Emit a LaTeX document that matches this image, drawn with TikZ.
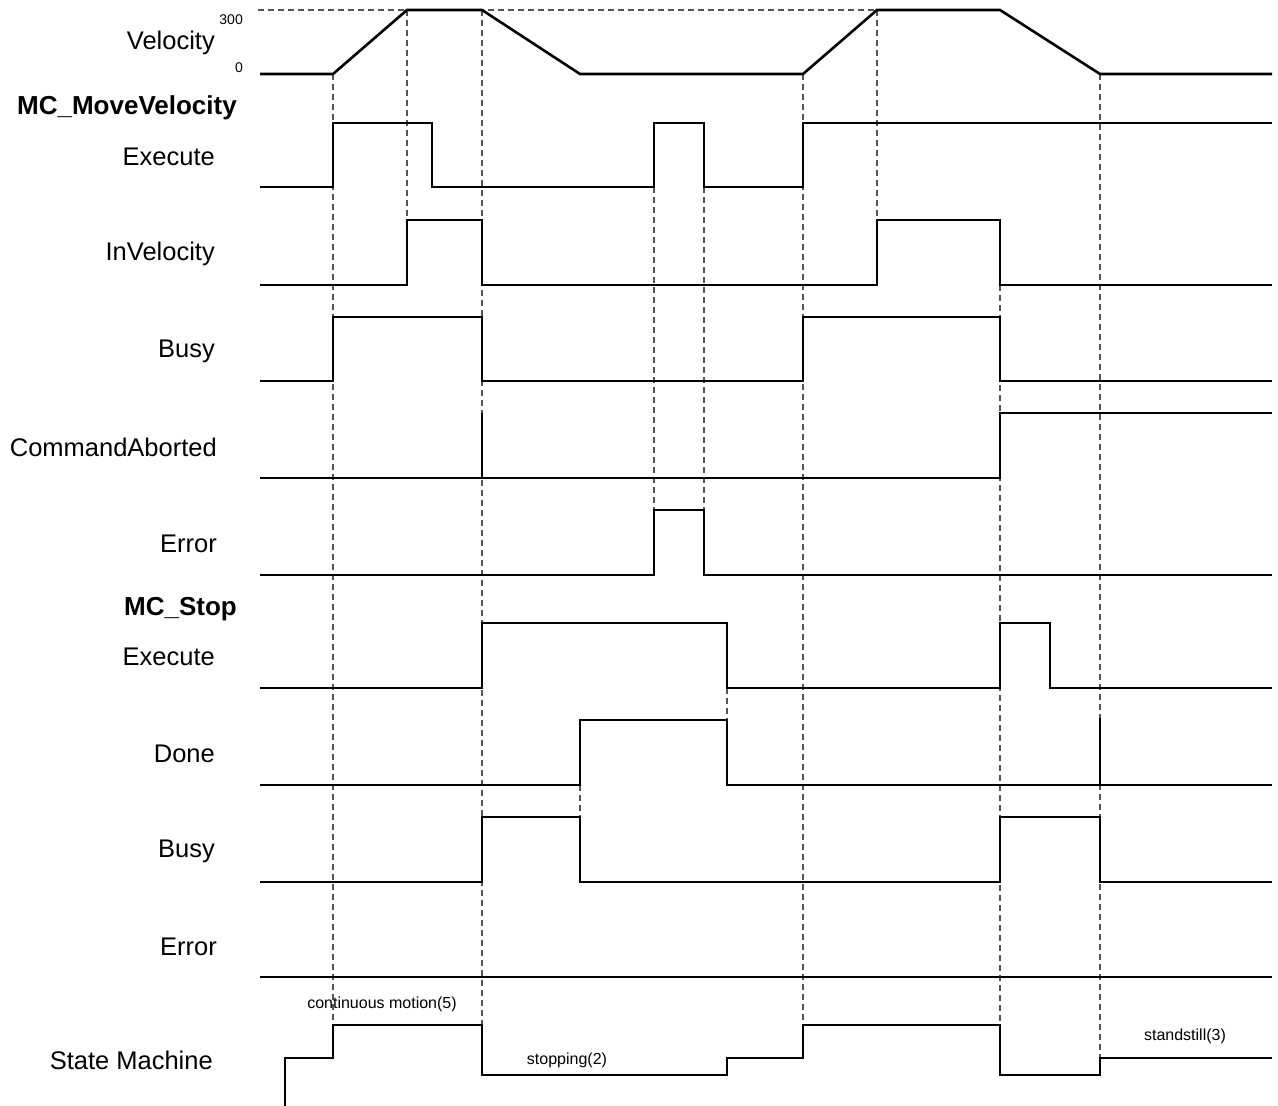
\documentclass[tikz,border=0pt]{standalone}
\usepackage{fontspec}
\setmainfont{Liberation Sans}
\usepackage{tikz}
\usepackage{xcolor}
\usetikzlibrary{positioning}
\definecolor{Ink}{HTML}{000000}
\definecolor{Guide}{HTML}{555555}

\begin{document}
\begin{tikzpicture}[x=1pt,y=-1pt,
  sig/.style={Ink,line width=2.6pt,line join=miter},
  guide/.style={Guide,line width=1.3pt,dash pattern=on 6pt off 4pt},
  lbl/.style={anchor=east,font=\fontsize{25.5}{27}\selectfont,inner sep=0pt},
  head/.style={anchor=east,font=\fontsize{26}{28}\selectfont\bfseries,inner sep=0pt},
  axis/.style={anchor=east,font=\fontsize{14}{16}\selectfont,inner sep=0pt},
  tiny/.style={font=\fontsize{16}{18}\selectfont,inner sep=0pt}]
  \useasboundingbox (0,0) rectangle (1278,1106);
  \draw[guide] (258,10) -- (877,10);
  \draw[guide] (333,74) -- (333,1025);
  \draw[guide] (407,10) -- (407,220);
  \draw[guide] (482,10) -- (482,1025);
  \draw[guide] (654,187) -- (654,510);
  \draw[guide] (704,187) -- (704,510);
  \draw[guide] (580,785) -- (580,817);
  \draw[guide] (727,688) -- (727,720);
  \draw[guide] (803,74) -- (803,1025);
  \draw[guide] (877,10) -- (877,220);
  \draw[guide] (1000,285) -- (1000,1025);
  \draw[guide] (1100,74) -- (1100,1058);
  \draw[sig] (260,74) -- (333,74) -- (407,10) -- (482,10) -- (580,74) -- (803,74) -- (877,10) -- (1000,10) -- (1100,74) -- (1272,74);
  \draw[sig] (260,187) -- (333,187) -- (333,123) -- (432,123) -- (432,187) -- (654,187) -- (654,123) -- (704,123) -- (704,187) -- (803,187) -- (803,123) -- (1272,123);
  \draw[sig] (260,285) -- (407,285) -- (407,220) -- (482,220) -- (482,285) -- (877,285) -- (877,220) -- (1000,220) -- (1000,285) -- (1272,285);
  \draw[sig] (260,381) -- (333,381) -- (333,317) -- (482,317) -- (482,381) -- (803,381) -- (803,317) -- (1000,317) -- (1000,381) -- (1272,381);
  \draw[sig] (260,478) -- (1000,478) -- (1000,413) -- (1272,413);
  \draw[sig] (482,478) -- (482,413);
  \draw[sig] (260,575) -- (654,575) -- (654,510) -- (704,510) -- (704,575) -- (1272,575);
  \draw[sig] (260,688) -- (482,688) -- (482,623) -- (727,623) -- (727,688) -- (1000,688) -- (1000,623) -- (1050,623) -- (1050,688) -- (1272,688);
  \draw[sig] (260,785) -- (580,785) -- (580,720) -- (727,720) -- (727,785) -- (1272,785);
  \draw[sig] (1100,785) -- (1100,718);
  \draw[sig] (260,882) -- (482,882) -- (482,817) -- (580,817) -- (580,882) -- (1000,882) -- (1000,817) -- (1100,817) -- (1100,882) -- (1272,882);
  \draw[sig] (260,977) -- (1272,977);
  \draw[sig] (285,1106) -- (285,1058) -- (333,1058) -- (333,1025) -- (482,1025) -- (482,1075) -- (727,1075) -- (727,1058) -- (803,1058) -- (803,1025) -- (1000,1025) -- (1000,1075) -- (1100,1075) -- (1100,1058) -- (1272,1058);
  \node[lbl] (velocity) at (215,43) {Velocity};
  \node[axis] (vmax) at (243,20) {300};
  \node[axis] (vzero) at (243,68) {0};
  \node[head] (moveblock) at (237,108) {MC\_MoveVelocity};
  \node[lbl] (mvexecute) at (215,157) {Execute};
  \node[lbl] (mvinvel) at (215,254) {InVelocity};
  \node[lbl] (mvbusy) at (215,351) {Busy};
  \node[lbl] (mvaborted) at (217,447) {CommandAborted};
  \node[lbl] (mverror) at (217,544) {Error};
  \node[head] (stopblock) at (237,609) {MC\_Stop};
  \node[lbl] (stexecute) at (215,657) {Execute};
  \node[lbl] (stdone) at (215,754) {Done};
  \node[lbl] (stbusy) at (215,851) {Busy};
  \node[lbl] (sterror) at (217,947) {Error};
  \node[lbl] (statemachine) at (213,1060) {State Machine};
  \node[tiny] (contmotion) at (382,1004) {continuous motion(5)};
  \node[tiny] (stopping) at (567,1060) {stopping(2)};
  \node[tiny] (standstill) at (1185,1036) {standstill(3)};
\end{tikzpicture}
\end{document}
